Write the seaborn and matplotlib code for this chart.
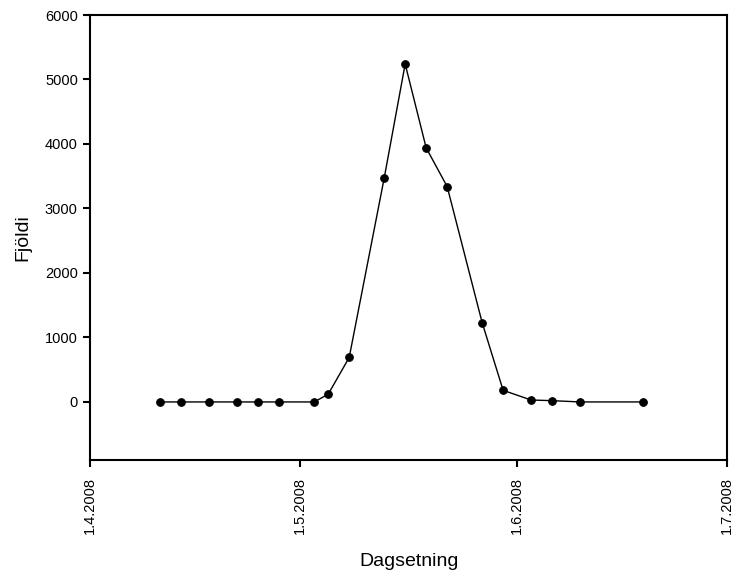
import numpy as np
import pandas as pd
import matplotlib
matplotlib.use("Agg")
import matplotlib.pyplot as plt
import seaborn as sns

# dagsetningar og fjöldi
dagsetning = ["2008-04-11", "2008-04-14", "2008-04-18", "2008-04-22", "2008-04-25",
              "2008-04-28", "2008-05-03", "2008-05-05", "2008-05-08", "2008-05-13",
              "2008-05-16", "2008-05-19", "2008-05-22", "2008-05-27", "2008-05-30",
              "2008-06-03", "2008-06-06", "2008-06-10", "2008-06-19"]
fjoldi = [0, 0, 0, 0, 0, 0, 0, 120, 690, 3470, 5240, 3940, 3340, 1230, 180, 30, 20, 0, 0]
xtick_dates = ["2008-04-01", "2008-05-01", "2008-06-01", "2008-07-01"]
xtick_labels = ["1.4.2008", "1.5.2008", "1.6.2008", "1.7.2008"]
ytick_values = [0, 1000, 2000, 3000, 4000, 5000, 6000]

df = pd.DataFrame({"Dagsetning": pd.to_datetime(dagsetning), "Fjöldi": fjoldi})

sns.set_style("ticks", {"text.color": "black", "axes.labelcolor": "black",
                        "xtick.color": "black", "ytick.color": "black"})
plt.rcParams["font.family"] = ["Liberation Sans", "DejaVu Sans"]

fig = plt.figure(figsize=(7.32, 5.77), dpi=100)
ax = fig.add_axes([0.1234, 0.2028, 0.8698, 0.7712])

sns.lineplot(data=df, x="Dagsetning", y="Fjöldi", ax=ax,
             color="black", linewidth=1, marker="o", markersize=5.5,
             markeredgecolor="black", markerfacecolor="black")

ax.set_xlim(pd.Timestamp(xtick_dates[0]), pd.Timestamp(xtick_dates[-1]))
ax.set_ylim(-900, 6000)
ax.set_xticks(pd.to_datetime(xtick_dates))
ax.set_xticklabels(xtick_labels, rotation=90, fontsize=10.5)
ax.set_yticks(ytick_values)
ax.set_yticklabels([str(v) for v in ytick_values], fontsize=10.5)

for s in ax.spines.values():
    s.set_visible(True)
    s.set_linewidth(1.5)
    s.set_color("black")
ax.tick_params(axis="both", direction="out", length=5, width=1.5,
               color="black", labelcolor="black")
ax.tick_params(axis="x", pad=7)
ax.tick_params(axis="y", pad=4)

ax.set_xlabel("Dagsetning", fontsize=14, labelpad=14, color="black")
ax.set_ylabel("Fjöldi", fontsize=14, labelpad=10, color="black")

fig.savefig("out.png", dpi=100)
